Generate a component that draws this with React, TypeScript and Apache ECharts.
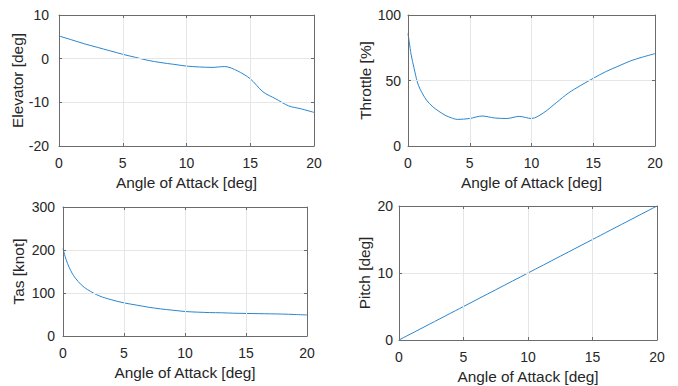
import React, { useEffect, useRef } from "react";
import * as echarts from "echarts";

// ---- data ----
const elevAoa = [0, 1, 2, 3, 4, 5, 6, 7, 8, 9, 10, 11, 12, 13, 14, 15, 16, 17, 18, 19, 20];
const elevator = [5.2, 4.3, 3.4, 2.6, 1.8, 1.0, 0.3, -0.4, -0.9, -1.3, -1.7, -1.9, -2.0, -1.8, -2.8, -4.6, -7.6, -9.2, -10.8, -11.5, -12.3];

const thrAoa = [0, 0.25, 0.5, 0.75, 1, 1.5, 2, 2.5, 3, 3.5, 4, 5, 6, 7, 8, 9, 10, 11, 12, 13, 14, 15, 16, 17, 18, 19, 20];
const throttle = [86, 70, 59, 49, 43, 35, 30, 26.5, 23.5, 21.5, 20.3, 21, 22.9, 21.4, 21, 22.6, 21, 25.5, 33, 40.5, 46.3, 51.7, 56.7, 60.8, 64.9, 67.9, 70.5];

const tasAoa = [0, 0.25, 0.5, 0.75, 1, 1.5, 2, 3, 4, 5, 6, 7, 8, 9, 10, 11, 12, 13, 14, 15, 16, 17, 18, 19, 20];
const tas = [203, 178, 160, 146, 135, 119, 108, 93, 84, 77, 72, 67, 63, 60, 57, 55.5, 54.5, 54, 53, 52.5, 52, 51.5, 51, 50, 49];

const pitchAoa = [0, 5, 10, 15, 20];
const pitch = [0, 5, 10, 15, 20];

const xName = "Angle of Attack [deg]";
const yNames = ["Elevator [deg]", "Throttle [%]", "Tas [knot]", "Pitch [deg]"];
const yRanges = [
  [-20, 10, 10],
  [0, 100, 50],
  [0, 300, 100],
  [0, 20, 10],
];
const xRange = [0, 20, 5];

const FONT = "Liberation Sans, Arial, sans-serif";
const TEXT = "#262626";
const AXIS = "#6b6b6b";
const GRIDC = "#e6e6e6";
const LINE = "#2a86cf";

export default function App() {
  const ref = useRef<HTMLDivElement>(null);
  useEffect(() => {
    if (!ref.current) return;
    const chart = echarts.init(ref.current, undefined, { renderer: "svg" });

    const grids = [
      { left: 59, top: 15, width: 255, height: 131 },
      { left: 408, top: 15, width: 247, height: 131 },
      { left: 63, top: 207, width: 244, height: 129 },
      { left: 399, top: 206, width: 258, height: 134 },
    ];
    const yLabelMargin = [10, 7, 8, 6];
    const yNameGap = [32, 35, 37, 27];

    const xAxes: any[] = [];
    const yAxes: any[] = [];
    grids.forEach((g, i) => {
      const common = {
        gridIndex: i,
        type: "value",
        axisLine: { show: true, onZero: false, lineStyle: { color: AXIS, width: 1 } },
        axisTick: { show: true, inside: true, length: 3, lineStyle: { color: AXIS } },
      };
      xAxes.push({
        ...common,
        position: "bottom",
        min: xRange[0],
        max: xRange[1],
        interval: xRange[2],
        name: xName,
        nameLocation: "middle",
        nameGap: 29,
        nameTextStyle: { fontFamily: FONT, fontSize: 15.4, color: TEXT },
        axisLabel: { margin: 10, fontFamily: FONT, fontSize: 14, color: TEXT },
        splitLine: { show: true, lineStyle: { color: GRIDC, width: 1, type: "solid" } },
        z: 3,
      });
      xAxes.push({
        ...common,
        position: "top",
        min: xRange[0],
        max: xRange[1],
        interval: xRange[2],
        axisLabel: { show: false },
        splitLine: { show: false },
        z: 3,
      });
      const [mn, mx, iv] = yRanges[i];
      yAxes.push({
        ...common,
        position: "left",
        min: mn,
        max: mx,
        interval: iv,
        name: yNames[i],
        nameLocation: "middle",
        nameGap: yNameGap[i],
        nameTextStyle: { fontFamily: FONT, fontSize: 15.4, color: TEXT },
        axisLabel: { margin: yLabelMargin[i], fontFamily: FONT, fontSize: 14, color: TEXT },
        splitLine: { show: true, lineStyle: { color: GRIDC, width: 1, type: "solid" } },
        z: 3,
      });
      yAxes.push({
        ...common,
        position: "right",
        min: mn,
        max: mx,
        interval: iv,
        axisLabel: { show: false },
        splitLine: { show: false },
        z: 3,
      });
    });

    const mk = (xs: number[], ys: number[]) => xs.map((x, k) => [x, ys[k]]);
    const datasets = [
      mk(elevAoa, elevator),
      mk(thrAoa, throttle),
      mk(tasAoa, tas),
      mk(pitchAoa, pitch),
    ];

    chart.setOption({
      animation: false,
      backgroundColor: "#ffffff",
      grid: grids.map((g) => ({ ...g, containLabel: false, show: false })),
      xAxis: xAxes,
      yAxis: yAxes,
      series: datasets.map((d, i) => ({
        type: "line",
        xAxisIndex: i * 2,
        yAxisIndex: i * 2,
        data: d,
        smooth: 0.3,
        showSymbol: false,
        symbol: "none",
        z: 2,
        lineStyle: { color: LINE, width: 1 },
      })),
    });
    return () => chart.dispose();
  }, []);
  return (
    <div
      ref={ref}
      style={{ position: "absolute", left: 0, top: 0, width: 678, height: 386 }}
    />
  );
}
